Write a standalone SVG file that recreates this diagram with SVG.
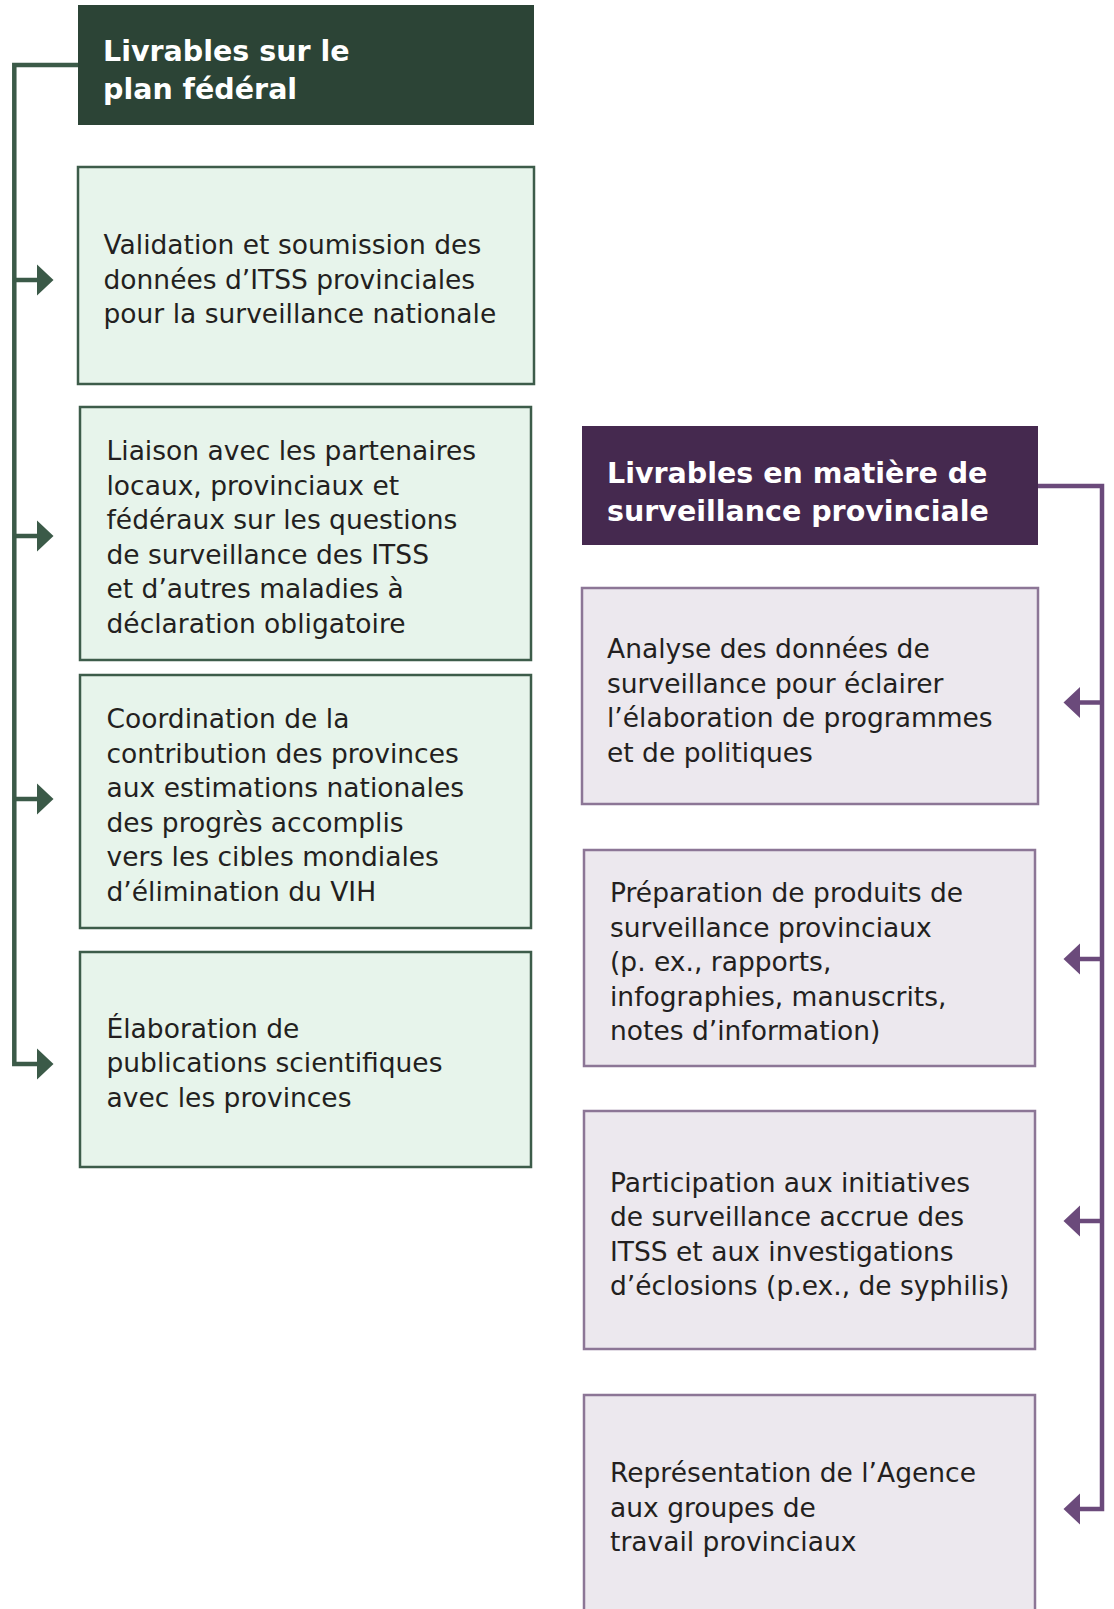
<svg xmlns="http://www.w3.org/2000/svg" width="1114" height="1609" viewBox="0 0 1114 1609">
  <style>
    .hg { fill: #2c4436; }
    .hp { fill: #45294f; }
    .bg { fill: #e7f4eb; stroke: #3d5c4a; stroke-width: 2.5; }
    .bp { fill: #ece8ee; stroke: #8c7696; stroke-width: 2.5; }
    .ht { font-family: "DejaVu Sans", "Liberation Sans", sans-serif; font-weight: bold; font-size: 28.5px; fill: #ffffff; }
    .t { font-family: "DejaVu Sans", "Liberation Sans", sans-serif; font-size: 26.5px; fill: #231f20; }
    .cg { fill: none; stroke: #3b5a48; stroke-width: 4.5; stroke-linejoin: miter; }
    .cp { fill: none; stroke: #6b4a7b; stroke-width: 4.5; stroke-linejoin: miter; }
  </style>
  <defs>
    <marker id="ag" viewBox="0 -16 17 32" refX="0" refY="0" markerWidth="17" markerHeight="32" markerUnits="userSpaceOnUse" orient="auto">
      <path d="M0,-15.5 L16.5,0 L0,15.5 Z" fill="#3b5a48"/>
    </marker>
    <marker id="ap" viewBox="0 -16 17 32" refX="0" refY="0" markerWidth="17" markerHeight="32" markerUnits="userSpaceOnUse" orient="auto">
      <path d="M0,-15.5 L16.5,0 L0,15.5 Z" fill="#6b4a7b"/>
    </marker>
  </defs>

  <g id="connectors">
    <path class="cg" d="M78,65 H14.3 V1064 H37" marker-end="url(#ag)"/>
    <path class="cg" d="M14.3,280 H37" marker-end="url(#ag)"/>
    <path class="cg" d="M14.3,536 H37" marker-end="url(#ag)"/>
    <path class="cg" d="M14.3,799 H37" marker-end="url(#ag)"/>
    <path class="cp" d="M1038,486 H1102 V1509 H1080" marker-end="url(#ap)"/>
    <path class="cp" d="M1102,702.5 H1080" marker-end="url(#ap)"/>
    <path class="cp" d="M1102,959 H1080" marker-end="url(#ap)"/>
    <path class="cp" d="M1102,1221 H1080" marker-end="url(#ap)"/>
  </g>

  <g id="federal-header">
    <rect class="hg" x="78" y="5" width="456" height="120"/>
    <text class="ht" x="103" y="60.7">Livrables sur le<tspan x="103" dy="38.3">plan fédéral</tspan></text>
  </g>

  <g id="f1">
    <rect class="bg" x="78" y="167" width="456" height="217"/>
    <text class="t" x="103.5" y="254.3">Validation et soumission des<tspan x="103.5" dy="34.5">données d’ITSS provinciales</tspan><tspan x="103.5" dy="34.5">pour la surveillance nationale</tspan></text>
  </g>

  <g id="f2">
    <rect class="bg" x="80" y="407" width="451" height="253"/>
    <text class="t" x="106.5" y="460.3">Liaison avec les partenaires<tspan x="106.5" dy="34.5">locaux, provinciaux et</tspan><tspan x="106.5" dy="34.5">fédéraux sur les questions</tspan><tspan x="106.5" dy="34.5">de surveillance des ITSS</tspan><tspan x="106.5" dy="34.5">et d’autres maladies à</tspan><tspan x="106.5" dy="34.5">déclaration obligatoire</tspan></text>
  </g>

  <g id="f3">
    <rect class="bg" x="80" y="675" width="451" height="253"/>
    <text class="t" x="106.5" y="728">Coordination de la<tspan x="106.5" dy="34.5">contribution des provinces</tspan><tspan x="106.5" dy="34.5">aux estimations nationales</tspan><tspan x="106.5" dy="34.5">des progrès accomplis</tspan><tspan x="106.5" dy="34.5">vers les cibles mondiales</tspan><tspan x="106.5" dy="34.5">d’élimination du VIH</tspan></text>
  </g>

  <g id="f4">
    <rect class="bg" x="80" y="952" width="451" height="215"/>
    <text class="t" x="106.5" y="1037.8">Élaboration de<tspan x="106.5" dy="34.5">publications scientifiques</tspan><tspan x="106.5" dy="34.5">avec les provinces</tspan></text>
  </g>

  <g id="provincial-header">
    <rect class="hp" x="582" y="426" width="456" height="119"/>
    <text class="ht" x="607" y="483.3">Livrables en matière de<tspan x="607" dy="37.2">surveillance provinciale</tspan></text>
  </g>

  <g id="p1">
    <rect class="bp" x="582" y="588" width="456" height="216"/>
    <text class="t" x="607" y="658.3">Analyse des données de<tspan x="607" dy="34.5">surveillance pour éclairer</tspan><tspan x="607" dy="34.5">l’élaboration de programmes</tspan><tspan x="607" dy="34.5">et de politiques</tspan></text>
  </g>

  <g id="p2">
    <rect class="bp" x="584" y="850" width="451" height="216"/>
    <text class="t" x="610" y="902.4">Préparation de produits de<tspan x="610" dy="34.5">surveillance provinciaux</tspan><tspan x="610" dy="34.5">(p. ex., rapports,</tspan><tspan x="610" dy="34.5">infographies, manuscrits,</tspan><tspan x="610" dy="34.5">notes d’information)</tspan></text>
  </g>

  <g id="p3">
    <rect class="bp" x="584" y="1111" width="451" height="238"/>
    <text class="t" x="610" y="1191.7">Participation aux initiatives<tspan x="610" dy="34.5">de surveillance accrue des</tspan><tspan x="610" dy="34.5">ITSS et aux investigations</tspan><tspan x="610" dy="34.5">d’éclosions (p.ex., de syphilis)</tspan></text>
  </g>

  <g id="p4">
    <rect class="bp" x="584" y="1395" width="451" height="260"/>
    <text class="t" x="610" y="1482">Représentation de l’Agence<tspan x="610" dy="34.5">aux groupes de</tspan><tspan x="610" dy="34.5">travail provinciaux</tspan></text>
  </g>
</svg>
